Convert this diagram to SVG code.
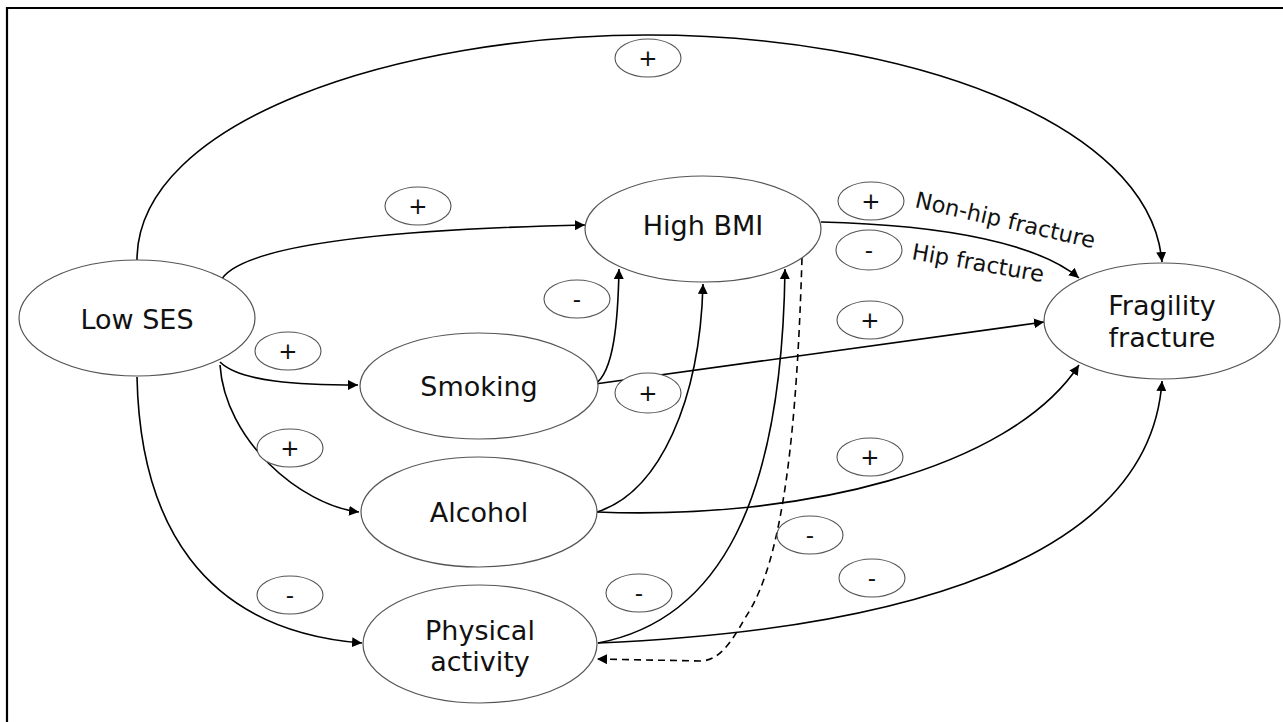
<svg xmlns="http://www.w3.org/2000/svg" width="1283" height="722" viewBox="0 0 1283 722">
  <defs>
    <marker id="arrow" viewBox="0 0 10 10" refX="10" refY="5" markerWidth="10" markerHeight="10" markerUnits="userSpaceOnUse" orient="auto">
      <path d="M0,0 L10,5 L0,10 z" fill="#000"/>
    </marker>
    <style>
      .node { fill: #fff; stroke: #555; stroke-width: 1.2; }
      .sign { fill: #fff; stroke: #555; stroke-width: 1.1; }
      .label { font-family: "DejaVu Sans", Verdana, sans-serif; font-size: 27px; fill: #111; text-anchor: middle; }
      .signtxt { font-family: "DejaVu Sans", Verdana, sans-serif; font-size: 23px; fill: #111; text-anchor: middle; }
      .note { font-family: "DejaVu Sans", Verdana, sans-serif; font-size: 22.5px; fill: #111; }
      .edge { fill: none; stroke: #000; stroke-width: 1.6; marker-end: url(#arrow); }
      .dashed { fill: none; stroke: #000; stroke-width: 1.6; stroke-dasharray: 7 5; marker-end: url(#arrow); }
    </style>
  </defs>

  <rect width="1283" height="722" fill="#fff"/>
  <!-- frame -->
  <path d="M7,722 V8 H1283" fill="none" stroke="#000" stroke-width="2.2"/>

  <!-- connectors -->
  <g id="connectors">
    <path class="edge" d="M137,260 C137,120 400,35 648,35 C900,35 1150,120 1162,262"/>
    <path class="edge" d="M220,282 C240,238 450,228 585,225"/>
    <path class="edge" d="M220,362 C240,382 300,385 358,385"/>
    <path class="edge" d="M220,365 C225,440 300,505 359,512"/>
    <path class="edge" d="M137,377 C140,520 200,630 362,643"/>
    <path class="edge" d="M595,384 C614,372 618,320 619,269"/>
    <path class="edge" d="M595,384 L1044,322"/>
    <path class="edge" d="M597,512 C660,492 700,400 703,284"/>
    <path class="edge" d="M597,512 C800,520 1010,470 1079,365"/>
    <path class="edge" d="M598,643 C720,620 782,500 785,269"/>
    <path class="edge" d="M598,643 C900,630 1150,560 1162,381"/>
    <path class="edge" d="M821,222 C950,225 1040,245 1079,278"/>
    <path class="dashed" d="M802,258 C797,420 785,560 745,618 C730,645 718,661 700,661 L597,659"/>
  </g>

  <!-- nodes -->
  <g id="low-ses">
    <ellipse class="node" cx="137" cy="318" rx="118" ry="58"/>
    <text class="label" x="137" y="329">Low SES</text>
  </g>
  <g id="high-bmi">
    <ellipse class="node" cx="703" cy="229" rx="118" ry="53"/>
    <text class="label" x="703" y="235">High BMI</text>
  </g>
  <g id="smoking">
    <ellipse class="node" cx="479" cy="386" rx="119" ry="53"/>
    <text class="label" x="479" y="396">Smoking</text>
  </g>
  <g id="alcohol">
    <ellipse class="node" cx="479" cy="512" rx="118" ry="55"/>
    <text class="label" x="479" y="522">Alcohol</text>
  </g>
  <g id="physical-activity">
    <ellipse class="node" cx="480" cy="644" rx="117" ry="59"/>
    <text class="label" x="480" y="640">Physical</text>
    <text class="label" x="480" y="671">activity</text>
  </g>
  <g id="fragility-fracture">
    <ellipse class="node" cx="1162" cy="321" rx="118" ry="58"/>
    <text class="label" x="1162" y="315">Fragility</text>
    <text class="label" x="1162" y="347">fracture</text>
  </g>

  <!-- effect signs -->
  <g id="signs">
    <g><ellipse class="sign" cx="648" cy="58" rx="33" ry="19"/><text class="signtxt" x="648" y="66">+</text></g>
    <g><ellipse class="sign" cx="418" cy="206" rx="33" ry="19"/><text class="signtxt" x="418" y="214">+</text></g>
    <g><ellipse class="sign" cx="871" cy="201" rx="33" ry="19"/><text class="signtxt" x="871" y="209">+</text></g>
    <g><ellipse class="sign" cx="869" cy="250" rx="33" ry="20"/><text class="signtxt" x="869" y="258">-</text></g>
    <g><ellipse class="sign" cx="577" cy="299" rx="33" ry="19"/><text class="signtxt" x="577" y="307">-</text></g>
    <g><ellipse class="sign" cx="288" cy="351" rx="33" ry="19"/><text class="signtxt" x="288" y="359">+</text></g>
    <g><ellipse class="sign" cx="870" cy="320" rx="33" ry="19"/><text class="signtxt" x="870" y="328">+</text></g>
    <g><ellipse class="sign" cx="648" cy="393" rx="33" ry="20"/><text class="signtxt" x="648" y="401">+</text></g>
    <g><ellipse class="sign" cx="290" cy="448" rx="33" ry="19"/><text class="signtxt" x="290" y="456">+</text></g>
    <g><ellipse class="sign" cx="870" cy="457" rx="33" ry="19"/><text class="signtxt" x="870" y="465">+</text></g>
    <g><ellipse class="sign" cx="810" cy="535" rx="33" ry="19"/><text class="signtxt" x="810" y="543">-</text></g>
    <g><ellipse class="sign" cx="872" cy="578" rx="33" ry="19"/><text class="signtxt" x="872" y="586">-</text></g>
    <g><ellipse class="sign" cx="290" cy="595" rx="33" ry="19"/><text class="signtxt" x="290" y="603">-</text></g>
    <g><ellipse class="sign" cx="639" cy="593" rx="33" ry="19"/><text class="signtxt" x="639" y="601">-</text></g>
  </g>

  <!-- fracture-site annotations -->
  <text class="note" transform="translate(914,207) rotate(13)">Non-hip fracture</text>
  <text class="note" transform="translate(911,259) rotate(10)">Hip fracture</text>
</svg>
